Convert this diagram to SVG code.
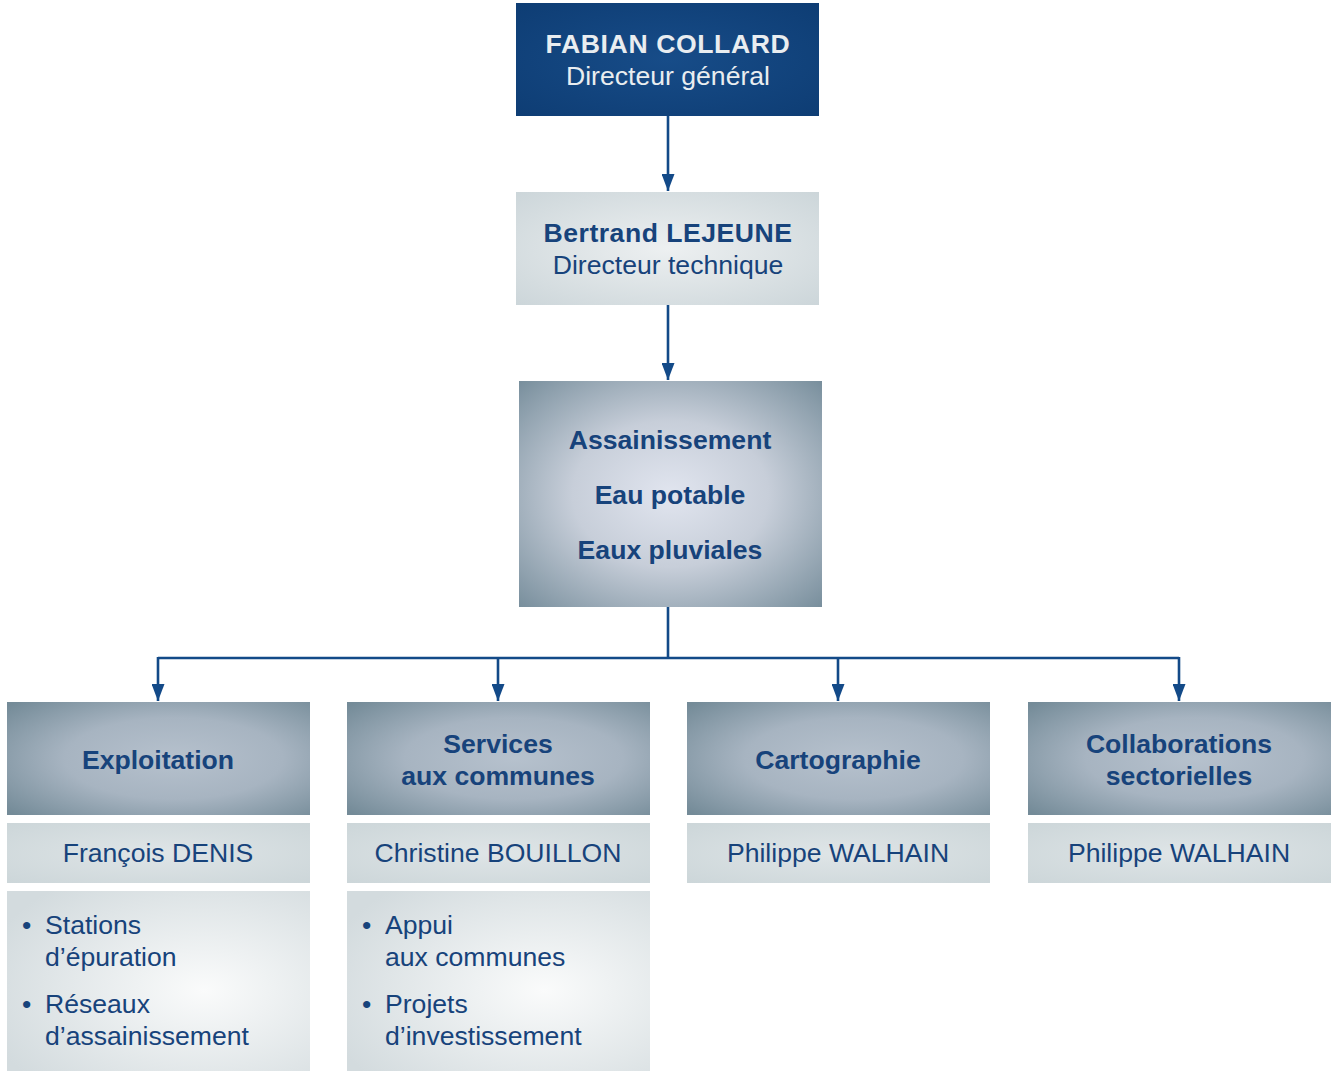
<svg xmlns="http://www.w3.org/2000/svg" width="1335" height="1071" viewBox="0 0 1335 1071">
<defs>
<radialGradient id="gTop" cx="50%" cy="50%" r="70%">
<stop offset="0" stop-color="#174c88"/>
<stop offset="1" stop-color="#0e3d74"/>
</radialGradient>
<radialGradient id="gLight" cx="50%" cy="50%" r="75%">
<stop offset="0" stop-color="#edf0f1"/>
<stop offset="1" stop-color="#cad4d8"/>
</radialGradient>
<radialGradient id="gMid" cx="50%" cy="50%" r="72%">
<stop offset="0" stop-color="#e1e5ef"/>
<stop offset="0.45" stop-color="#c7ced9"/>
<stop offset="1" stop-color="#758c9a"/>
</radialGradient>
<radialGradient id="gHead" cx="55%" cy="50%" r="72%">
<stop offset="0" stop-color="#b6c1cd"/>
<stop offset="0.5" stop-color="#a7b4c1"/>
<stop offset="1" stop-color="#748b98"/>
</radialGradient>
<radialGradient id="gName" cx="50%" cy="50%" r="75%">
<stop offset="0" stop-color="#dfe5e7"/>
<stop offset="1" stop-color="#cbd5d8"/>
</radialGradient>
<radialGradient id="gList" cx="65%" cy="55%" r="75%">
<stop offset="0" stop-color="#fafbfb"/>
<stop offset="1" stop-color="#d3dbde"/>
</radialGradient>
<marker id="arrow" viewBox="0 0 17 13" refX="17" refY="6.5" markerWidth="17" markerHeight="13" markerUnits="userSpaceOnUse" orient="auto">
<path d="M0,0 L17,6.5 L0,13 Z" fill="#134a88"/>
</marker>
</defs>
<style>
text{font-family:"Liberation Sans",Arial,sans-serif;font-size:26.6px;fill:#17437b;text-anchor:middle}
.b{font-weight:bold}
.w{fill:#e9edf0}
.l{text-anchor:start}
.c{fill:none;stroke:#134a88;stroke-width:2.6}
</style>
<rect width="1335" height="1071" fill="#ffffff"/>
<g id="connectors">
<path class="c" d="M668,116 V191" marker-end="url(#arrow)"/>
<path class="c" d="M668,305 V380" marker-end="url(#arrow)"/>
<path class="c" d="M668,607 V658"/>
<path class="c" d="M158,658 H1179"/>
<path class="c" d="M158,657 V701" marker-end="url(#arrow)"/>
<path class="c" d="M498,657 V701" marker-end="url(#arrow)"/>
<path class="c" d="M838,657 V701" marker-end="url(#arrow)"/>
<path class="c" d="M1179,657 V701" marker-end="url(#arrow)"/>
</g>
<g id="node-collard">
<rect x="516" y="3" width="303" height="113" fill="url(#gTop)"/>
<text class="b w" x="668" y="53" letter-spacing="0.6">FABIAN COLLARD</text>
<text class="w" x="668" y="85">Directeur général</text>
</g>
<g id="node-lejeune">
<rect x="516" y="192" width="303" height="113" fill="url(#gLight)"/>
<text class="b" x="668" y="242" letter-spacing="0.5">Bertrand LEJEUNE</text>
<text x="668" y="274">Directeur technique</text>
</g>
<g id="node-domaines">
<rect x="519" y="381" width="303" height="226" fill="url(#gMid)"/>
<text class="b" x="670" y="449">Assainissement</text>
<text class="b" x="670" y="504">Eau potable</text>
<text class="b" x="670" y="559">Eaux pluviales</text>
</g>
<g id="node-exploitation">
<rect x="7" y="702" width="303" height="113" fill="url(#gHead)"/>
<text class="b" x="158" y="769">Exploitation</text>
<rect x="7" y="823" width="303" height="60" fill="url(#gName)"/>
<text x="158" y="862">François DENIS</text>
<rect x="7" y="891" width="303" height="180" fill="url(#gList)"/>
<text class="l" x="22" y="934">•</text>
<text class="l" x="45" y="934">Stations</text>
<text class="l" x="45" y="966">d’épuration</text>
<text class="l" x="22" y="1013">•</text>
<text class="l" x="45" y="1013">Réseaux</text>
<text class="l" x="45" y="1045">d’assainissement</text>
</g>
<g id="node-services">
<rect x="347" y="702" width="303" height="113" fill="url(#gHead)"/>
<text class="b" x="498" y="753">Services</text>
<text class="b" x="498" y="785">aux communes</text>
<rect x="347" y="823" width="303" height="60" fill="url(#gName)"/>
<text x="498" y="862">Christine BOUILLON</text>
<rect x="347" y="891" width="303" height="180" fill="url(#gList)"/>
<text class="l" x="362" y="934">•</text>
<text class="l" x="385" y="934">Appui</text>
<text class="l" x="385" y="966">aux communes</text>
<text class="l" x="362" y="1013">•</text>
<text class="l" x="385" y="1013">Projets</text>
<text class="l" x="385" y="1045">d’investissement</text>
</g>
<g id="node-cartographie">
<rect x="687" y="702" width="303" height="113" fill="url(#gHead)"/>
<text class="b" x="838" y="769">Cartographie</text>
<rect x="687" y="823" width="303" height="60" fill="url(#gName)"/>
<text x="838" y="862">Philippe WALHAIN</text>
</g>
<g id="node-collaborations">
<rect x="1028" y="702" width="303" height="113" fill="url(#gHead)"/>
<text class="b" x="1179" y="753">Collaborations</text>
<text class="b" x="1179" y="785">sectorielles</text>
<rect x="1028" y="823" width="303" height="60" fill="url(#gName)"/>
<text x="1179" y="862">Philippe WALHAIN</text>
</g>
</svg>
